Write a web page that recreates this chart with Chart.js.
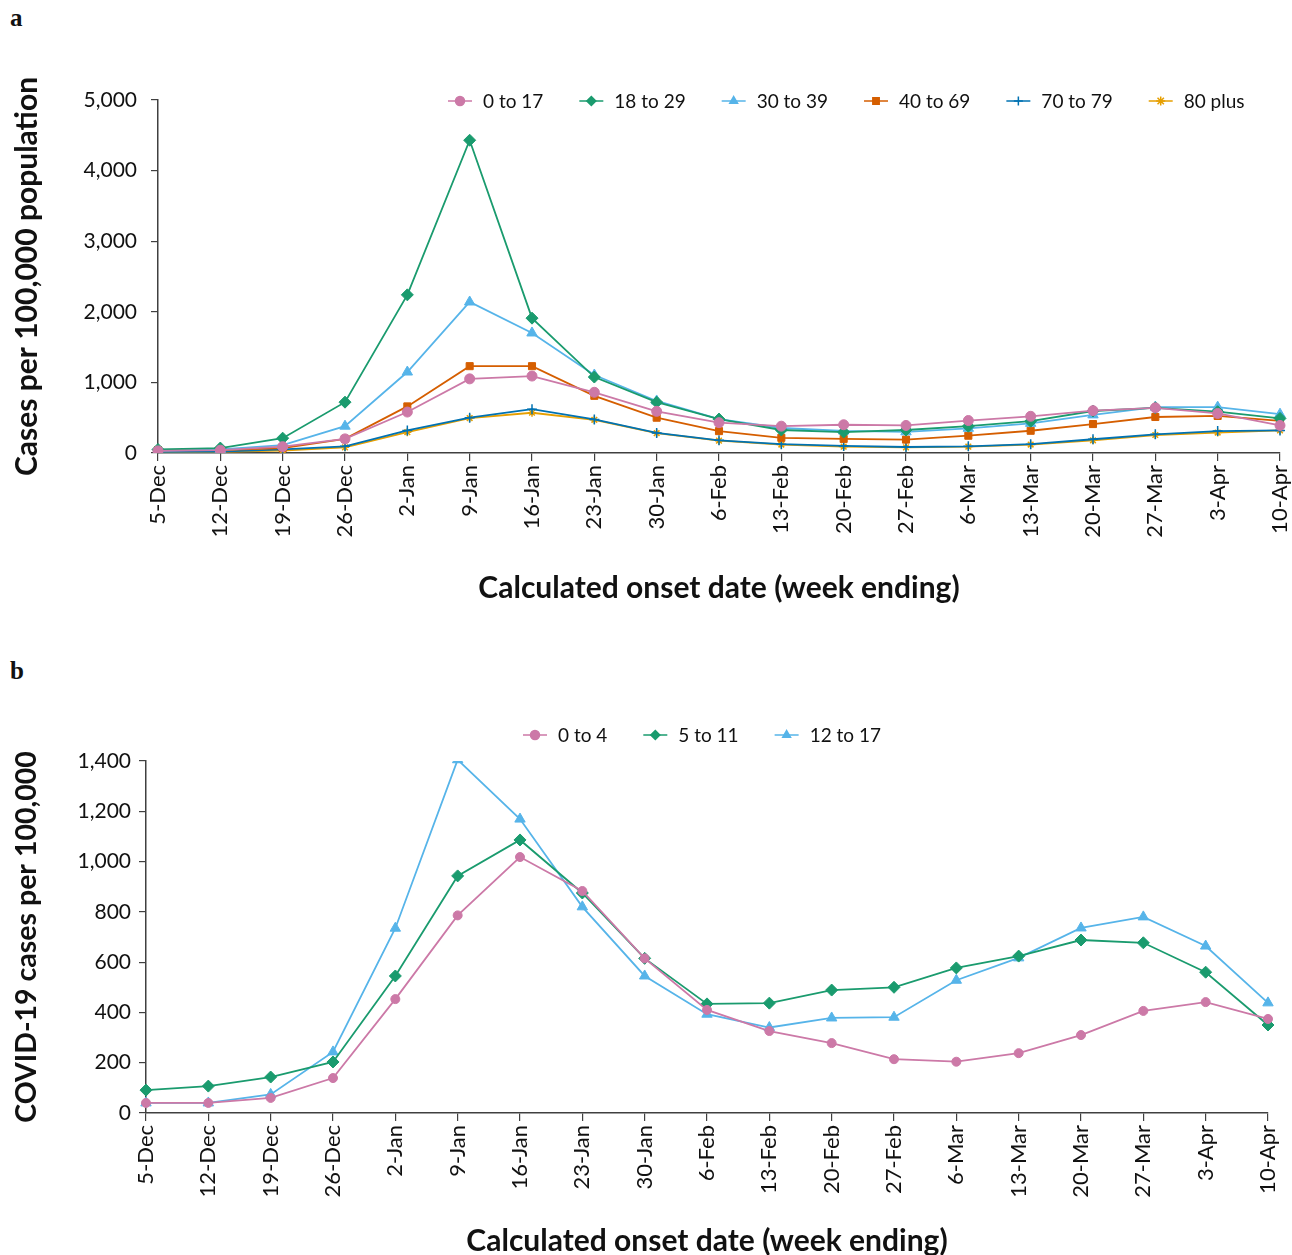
<!DOCTYPE html>
<html>
<head>
<meta charset="utf-8">
<script src="https://cdn.jsdelivr.net/npm/chart.js@4.4.1/dist/chart.umd.min.js"></script>
<style>
  body { margin: 0; background: #fff; width: 1292px; height: 1255px; overflow: hidden; position: relative; }
  .panel-label { position: absolute; left: 10px; font: bold 25px "Liberation Serif", "DejaVu Serif", serif; color: #111; }
  canvas { position: absolute; left: 0; }
</style>
</head>
<body>
<div class="panel-label" style="top:4px">a</div>
<div class="panel-label" style="top:657px">b</div>
<canvas id="chartA" style="top:0"></canvas>
<canvas id="chartB" style="top:640px"></canvas>
<script>
// week ending labels shared by both panels
const weeks = ['5-Dec','12-Dec','19-Dec','26-Dec','2-Jan','9-Jan','16-Jan','23-Jan','30-Jan','6-Feb',
    '13-Feb','20-Feb','27-Feb','6-Mar','13-Mar','20-Mar','27-Mar','3-Apr','10-Apr'];

// panel a: cases per 100,000 by age group
const a0to17  = [30, 40, 90, 200, 580, 1050, 1090, 860, 590, 430, 380, 400, 390, 460, 520, 600, 640, 560, 390];
const a18to29 = [50, 70, 210, 720, 2240, 4430, 1910, 1076, 720, 480, 326, 297, 326, 380, 450, 595, 640, 585, 490];
const a30to39 = [30, 50, 110, 380, 1147, 2139, 1700, 1105, 737, 480, 354, 312, 300, 350, 420, 540, 650, 650, 550];
const a40to69 = [40, 40, 70, 200, 660, 1230, 1230, 810, 500, 310, 215, 200, 190, 245, 315, 410, 510, 525, 455];
const a70to79 = [15, 20, 50, 95, 320, 500, 620, 475, 285, 180, 125, 100, 85, 95, 125, 195, 265, 310, 320];
const a80plus = [10, 15, 35, 80, 295, 495, 570, 470, 280, 175, 120, 90, 80, 90, 120, 180, 255, 290, 320];

// panel b: children
const b0to4   = [40, 40, 60, 139, 453, 786, 1018, 883, 615, 410, 326, 278, 214, 204, 238, 310, 406, 441, 374];
const b5to11  = [91, 107, 143, 203, 545, 943, 1086, 875, 615, 434, 437, 489, 500, 577, 624, 688, 677, 560, 350];
const b12to17 = [40, 40, 74, 243, 735, 1405, 1169, 820, 545, 393, 340, 378, 381, 528, 617, 736, 780, 664, 438];

const FONT = 'Lato, "Open Sans", sans-serif';
const AXIS = '#404040';

// legend drawn as line + marker, like the spreadsheet original
const lineLegend = {
    id: 'lineLegend',
    afterDraw(chart, args, opts) {
        const ctx = chart.ctx;
        let x = opts.x;
        ctx.save();
        ctx.font = opts.fontSize + 'px ' + FONT;
        ctx.textBaseline = 'middle';
        chart.data.datasets.forEach(ds => {
            ctx.strokeStyle = ds.borderColor; ctx.lineWidth = 1.5;
            ctx.beginPath(); ctx.moveTo(x, opts.y); ctx.lineTo(x + opts.lineLen, opts.y); ctx.stroke();
            ctx.fillStyle = ds.backgroundColor;
            Chart.helpers.drawPoint(ctx, { pointStyle: ds.pointStyle, radius: opts.radius, rotation: 0, borderWidth: 1.5 },
                x + opts.lineLen / 2, opts.y);
            const tx = x + opts.lineLen + opts.gap;
            ctx.fillStyle = '#111';
            ctx.fillText(ds.label, tx, opts.y + 1);
            x = tx + ctx.measureText(ds.label).width + opts.itemGap;
        });
        ctx.restore();
    }
};

function series(label, data, color, style, radius) {
    return { label, data, borderColor: color, backgroundColor: color, pointStyle: style,
        pointRadius: radius, pointHoverRadius: radius, pointBorderWidth: style === 'cross' || style === 'star' ? 1.5 : 1,
        borderWidth: 1.8, tension: 0, fill: false };
}

function makeOptions(cfg) {
    return {
        responsive: false, animation: false,
        layout: { padding: { top: cfg.top, right: cfg.right, left: 0, bottom: 0 } },
        plugins: { legend: { display: false }, tooltip: { enabled: false },
            lineLegend: cfg.legend },
        scales: {
            x: {
                offset: false,
                grid: { display: true, drawOnChartArea: false, drawTicks: true, tickLength: 8, color: AXIS, lineWidth: 1.2 },
                border: { display: true, color: AXIS, width: 1.5 },
                ticks: { color: '#111', font: { family: FONT, size: 22 }, minRotation: 90, maxRotation: 90, padding: 4, autoSkip: false },
                title: { display: true, text: 'Calculated onset date (week ending)', color: '#111',
                    font: { family: FONT, size: 30, weight: 'bold' }, padding: { top: 0, bottom: cfg.xTitlePad } },
                afterFit(scale) { scale.height = cfg.xHeight; scale.paddingRight = 0; scale.paddingLeft = 0; }
            },
            y: {
                min: 0, max: cfg.yMax,
                grid: { display: true, drawOnChartArea: false, drawTicks: true, tickLength: 7, color: AXIS, lineWidth: 1.2 },
                border: { display: true, color: AXIS, width: 1.5 },
                ticks: { stepSize: cfg.yStep, color: '#111', font: { family: FONT, size: 21 }, padding: cfg.yTickPad,
                    callback: v => v.toLocaleString('en-US') },
                title: { display: true, text: cfg.yTitle, color: '#111',
                    font: { family: FONT, size: cfg.yTitleSize, weight: 'bold' }, padding: { top: cfg.yTitlePad, bottom: 0 } },
                afterFit(scale) { scale.width = cfg.yWidth; }
            }
        }
    };
}

const canvasA = document.getElementById('chartA');
canvasA.width = 1292; canvasA.height = 640;
new Chart(canvasA.getContext('2d'), {
    type: 'line',
    data: { labels: weeks, datasets: [
        series('0 to 17', a0to17, '#CC79A7', 'circle', 5),
        series('18 to 29', a18to29, '#1A9B6E', 'rectRot', 6),
        series('30 to 39', a30to39, '#56B4E9', 'triangle', 6),
        series('40 to 69', a40to69, '#D55E00', 'rect', 5),
        series('70 to 79', a70to79, '#0072B2', 'cross', 5),
        series('80 plus', a80plus, '#E69F00', 'star', 4)
    ] },
    options: makeOptions({ top: 100, right: 12, xHeight: 187, yWidth: 158, yMax: 5000, yStep: 1000, yTickPad: 14,
        xTitlePad: 34, yTitle: 'Cases per 100,000 population', yTitleSize: 30, yTitlePad: 9,
        legend: { x: 448, y: 101, lineLen: 24, gap: 11, itemGap: 36, radius: 4.5, fontSize: 19 } }),
    plugins: [lineLegend]
});

const canvasB = document.getElementById('chartB');
canvasB.width = 1292; canvasB.height = 615;
new Chart(canvasB.getContext('2d'), {
    type: 'line',
    data: { labels: weeks, datasets: [
        series('0 to 4', b0to4, '#CC79A7', 'circle', 4.5),
        series('5 to 11', b5to11, '#1A9B6E', 'rectRot', 6),
        series('12 to 17', b12to17, '#56B4E9', 'triangle', 6)
    ] },
    options: makeOptions({ top: 121, right: 24, xHeight: 142, yWidth: 146, yMax: 1400, yStep: 200, yTickPad: 8,
        xTitlePad: -4, yTitle: 'COVID-19 cases per 100,000', yTitleSize: 28.5, yTitlePad: 10,
        legend: { x: 523, y: 95, lineLen: 24, gap: 11, itemGap: 36, radius: 4.5, fontSize: 19 } }),
    plugins: [lineLegend]
});
</script>
</body>
</html>
